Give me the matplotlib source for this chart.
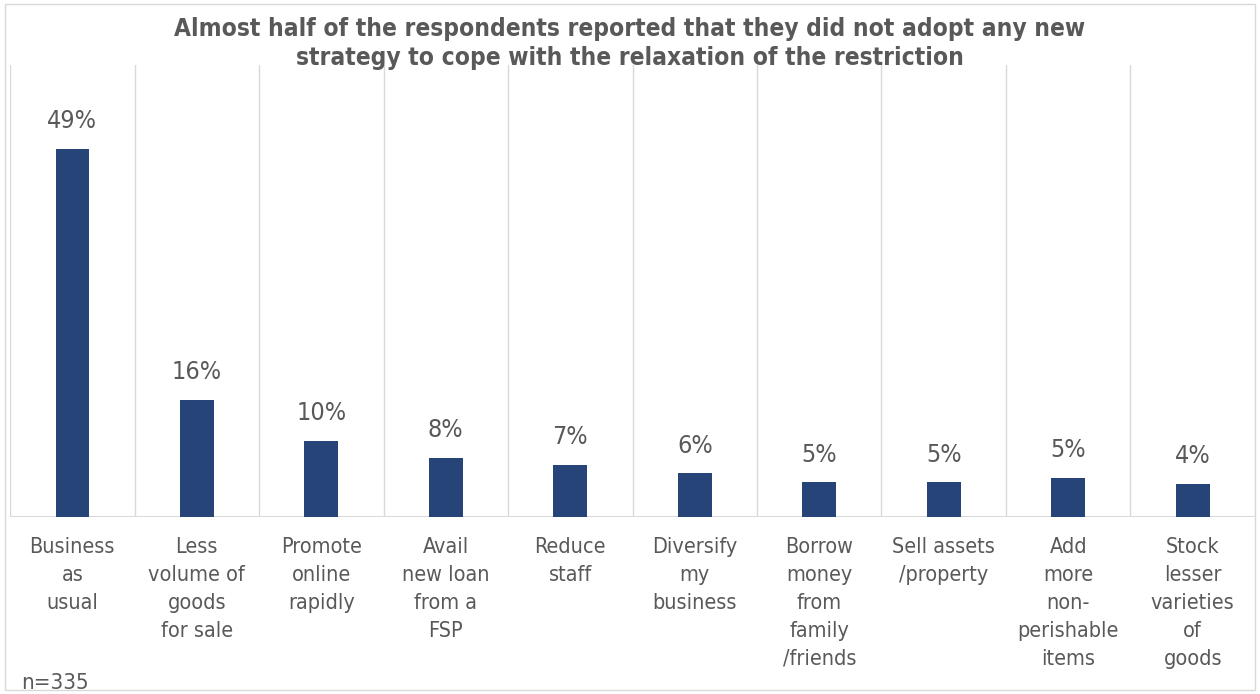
import matplotlib.pyplot as plt

categories = ["Business\nas\nusual", "Less\nvolume of\ngoods\nfor sale", "Promote\nonline\nrapidly",
              "Avail\nnew loan\nfrom a\nFSP", "Reduce\nstaff", "Diversify\nmy\nbusiness",
              "Borrow\nmoney\nfrom\nfamily\n/friends", "Sell assets\n/property",
              "Add\nmore\nnon-\nperishable\nitems", "Stock\nlesser\nvarieties\nof\ngoods"]
shares = [48.9, 15.6, 10.1, 7.8, 6.9, 5.8, 4.6, 4.6, 5.2, 4.4]

title = ("Almost half of the respondents reported that they did not adopt any new\n"
         "strategy to cope with the relaxation of the restriction")

grey = "#595959"
bar_color = "#264478"

plt.rcParams['font.family'] = ['DejaVu Sans']
plt.rcParams['font.stretch'] = 'condensed'

fig = plt.figure(figsize=(12.6, 6.94), dpi=100)
ax = fig.add_axes([0.008, 0.255, 0.988, 0.651])

x = range(len(categories))
ax.bar(x, shares, width=0.27, color=bar_color, zorder=3)
for i, v in enumerate(shares):
    ax.text(i, v + 2.1, f"{v:.0f}%", ha='center', va='bottom', fontsize=18, color=grey)

ax.set_xlim(-0.5, len(categories) - 0.5)
ax.set_ylim(0, 60)
for b in range(len(categories) + 1):
    ax.axvline(b - 0.5, color="#d9d9d9", lw=1, zorder=1)
ax.axhline(0, color="#d9d9d9", lw=1.5, zorder=2)
for s in ax.spines.values():
    s.set_visible(False)
ax.set_yticks([])
ax.set_xticks(list(x))
ax.set_xticklabels(categories, fontsize=15.5, color=grey, linespacing=1.49)
ax.tick_params(axis='x', length=0, pad=14.5)

fig.text(0.5, 0.975, title, ha='center', va='top', fontsize=17.6, fontweight='bold',
         color=grey, linespacing=1.27)
fig.text(0.017, 0.002, "n=335", ha='left', va='bottom', fontsize=16, color=grey)

border = plt.Rectangle((0.004, 0.006), 0.992, 0.988, transform=fig.transFigure,
                       fill=False, edgecolor="#d9d9d9", lw=1)
fig.patches.append(border)

fig.savefig("out.png", dpi=100)
